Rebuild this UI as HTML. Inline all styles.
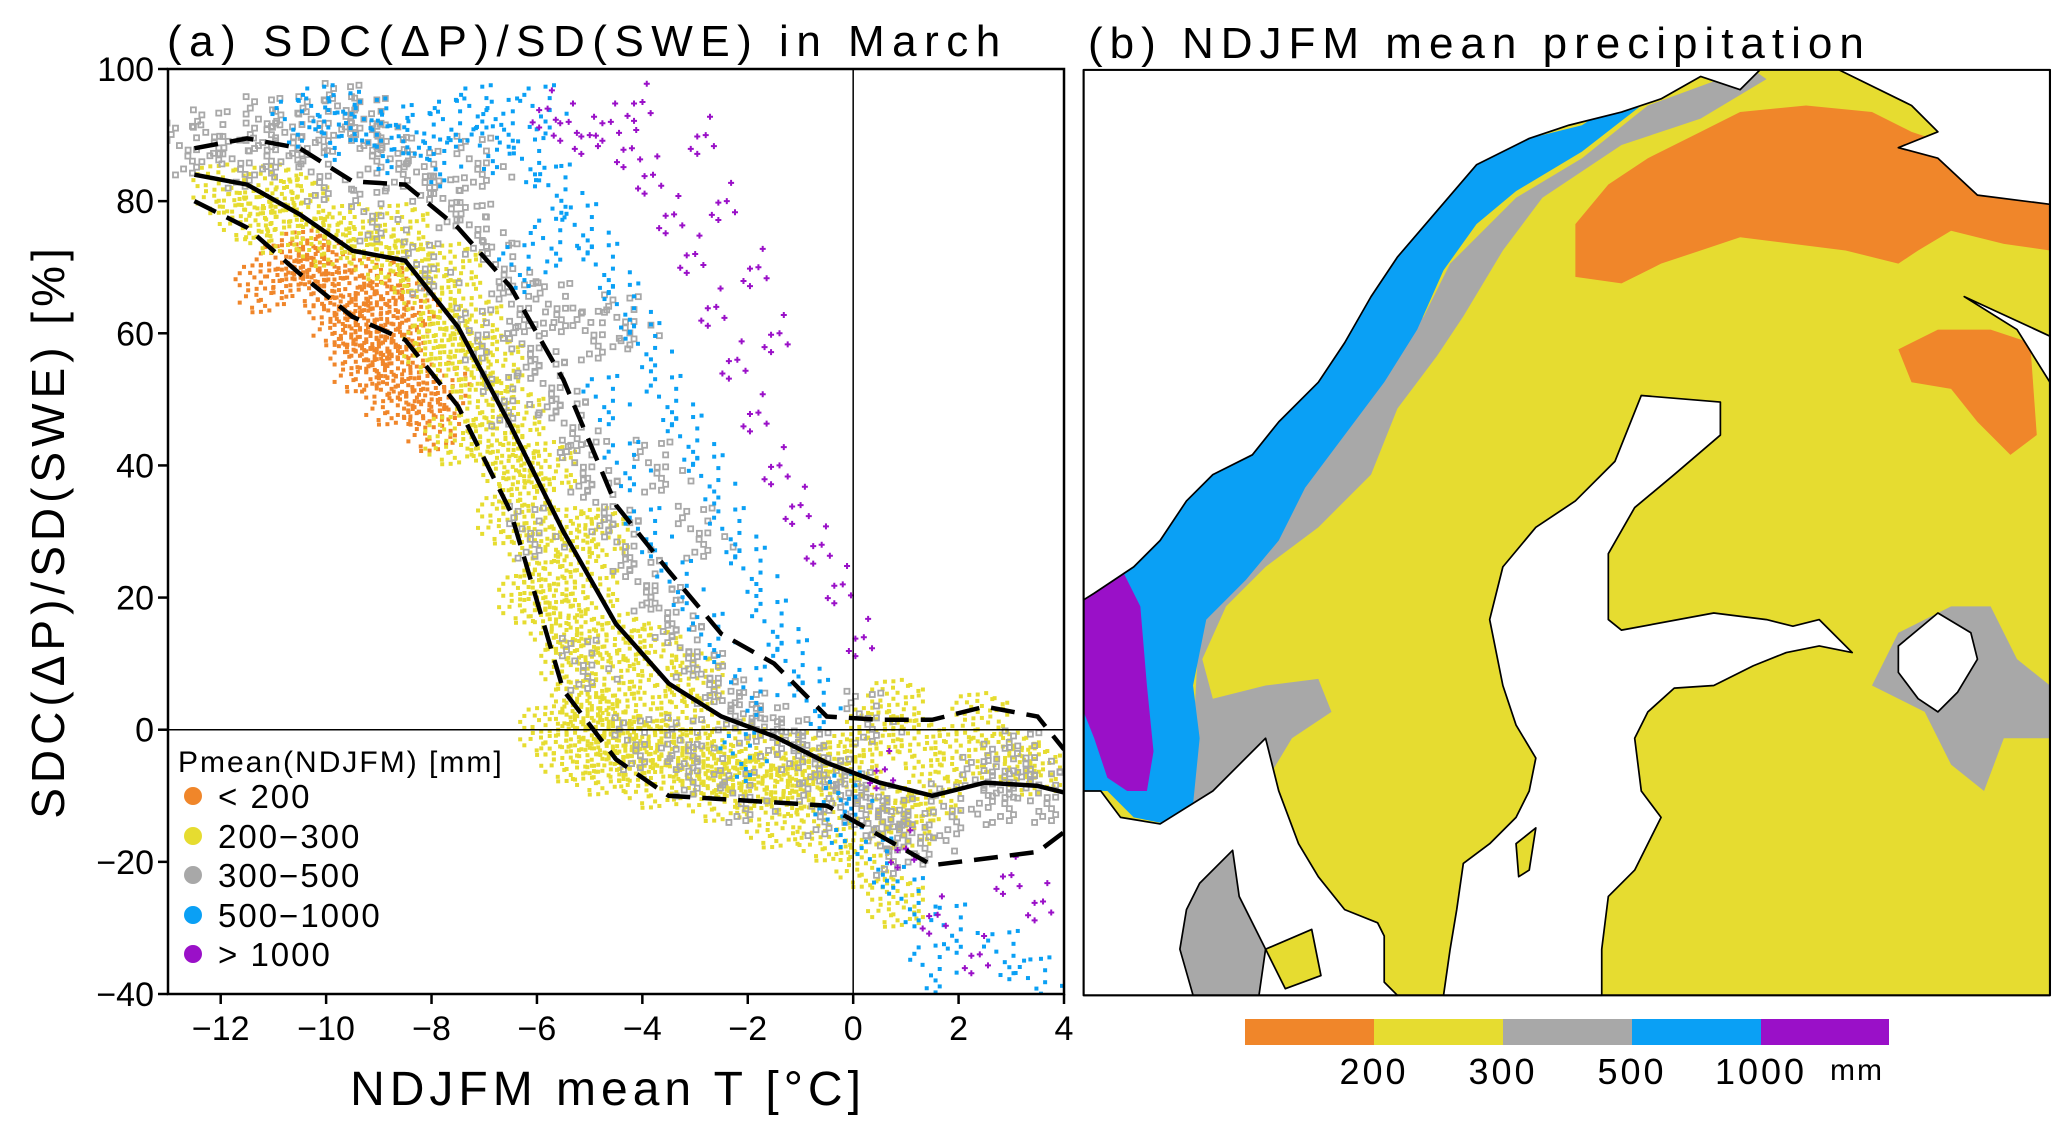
<!DOCTYPE html>
<html><head><meta charset="utf-8"><style>
html,body{margin:0;padding:0;background:#fff;}
svg{display:block;font-family:"Liberation Sans",sans-serif;}
</style></head><body>
<svg id="fig" width="2067" height="1131" viewBox="0 0 2067 1131" xmlns="http://www.w3.org/2000/svg">
<g id="panelA">
<text x="167" y="56" font-size="44" letter-spacing="7.5">(a) SDC(ΔP)/SD(SWE) in March</text>
<g id="plot"></g>
<g id="axes"></g>
<text x="608" y="1105" font-size="48" letter-spacing="5" text-anchor="middle">NDJFM mean T [°C]</text>
<text transform="translate(64,531) rotate(-90)" font-size="46" letter-spacing="5" text-anchor="middle">SDC(ΔP)/SD(SWE) [%]</text>
<g>
<text x="178" y="772" font-size="30" letter-spacing="2">Pmean(NDJFM) [mm]</text>
<circle cx="193" cy="796" r="9" fill="#f0862a"/><text x="218" y="808" font-size="33" letter-spacing="2">&lt; 200</text>
<circle cx="193" cy="836" r="9" fill="#e6dc30"/><text x="218" y="848" font-size="33" letter-spacing="2">200−300</text>
<circle cx="193" cy="875" r="9" fill="#a8a8a8"/><text x="218" y="887" font-size="33" letter-spacing="2">300−500</text>
<circle cx="193" cy="915" r="9" fill="#0aa0f5"/><text x="218" y="927" font-size="33" letter-spacing="2">500−1000</text>
<circle cx="193" cy="954" r="9" fill="#9a10c8"/><text x="218" y="966" font-size="33" letter-spacing="2">&gt; 1000</text>
</g>
</g>

<g id="panelB">
<text x="1088" y="58" font-size="44" letter-spacing="7">(b) NDJFM mean precipitation</text>
<g transform="scale(1.3183)" stroke-linejoin="round">
<rect x="822" y="53" width="733" height="702" fill="#e6dc30"/>
<polygon fill="#f0862a" points="1195,210 1195,170 1220,140 1250,120 1290,100 1320,85 1370,80 1420,85 1450,100 1480,110 1555,120 1555,190 1520,185 1480,175 1455,190 1440,200 1400,190 1360,185 1320,180 1290,190 1260,200 1230,215"/>
<polygon fill="#f0862a" points="1440,265 1470,250 1510,250 1540,260 1545,330 1525,345 1500,320 1480,295 1450,290"/>
<polygon fill="#a8a8a8" points="895,640 905,560 910,470 940,430 970,400 995,350 1025,310 1055,270 1080,240 1100,200 1150,150 1200,120 1250,80 1310,58 1330,53 1340,60 1290,90 1230,110 1170,150 1140,190 1110,240 1090,270 1060,310 1040,360 1000,400 960,430 930,460 912,500 920,530 960,520 1000,515 1010,540 980,560 965,585 975,630 1000,680 1030,720 1045,745 1040,755 1000,755 960,720 930,650"/>
<polygon fill="#a8a8a8" points="1420,520 1440,480 1480,460 1510,460 1530,500 1555,520 1555,560 1520,560 1505,600 1480,580 1460,540"/>
<polygon fill="#0aa0f5" points="840,600 860,620 885,625 905,610 910,560 905,520 915,470 945,440 970,410 990,370 1020,330 1050,290 1075,250 1095,205 1120,170 1150,145 1200,115 1245,80 1230,75 1200,95 1160,105 1120,125 1090,160 1060,195 1040,225 1020,260 1000,290 970,320 950,345 920,360 900,380 880,410 860,430 830,450 822,455 822,600"/>
<polygon fill="#9a10c8" points="822,437 850,430 865,460 870,520 875,570 870,600 855,600 840,590 830,560 822,540"/>
<g fill="#fff" stroke="#000" stroke-width="1.3">
<polygon points="822,53 1335,53 1320,68 1290,58 1260,75 1230,85 1190,95 1160,105 1120,125 1090,160 1060,195 1040,225 1020,260 1000,290 970,320 950,345 920,360 900,380 880,410 860,430 830,450 822,455"/>
<polygon points="1395,53 1555,53 1555,155 1500,148 1470,120 1440,112 1470,100 1450,80"/>
<polygon points="822,600 835,600 850,620 880,625 920,600 945,575 960,560 970,600 985,640 1000,665 1020,690 1045,700 1050,710 1050,745 1060,755 822,755"/>
<polygon points="1245,300 1225,350 1195,380 1165,400 1140,430 1130,470 1140,520 1150,550 1165,575 1160,600 1150,620 1130,640 1110,655 1105,690 1100,720 1095,755 1215,755 1215,720 1220,680 1240,660 1260,620 1245,600 1240,560 1250,540 1270,522 1300,520 1330,505 1355,495 1380,490 1405,495 1380,470 1360,475 1340,470 1300,465 1230,478 1220,470 1220,420 1240,385 1270,360 1305,330 1305,305"/>
<polygon points="1440,490 1470,465 1495,480 1500,500 1485,525 1470,540 1455,530 1440,510"/>
<polygon points="1490,225 1555,255 1555,290 1530,250"/>
</g>
<polygon fill="#a8a8a8" stroke="#000" stroke-width="1.3" points="900,690 910,670 935,645 940,680 960,720 955,755 905,755 895,720"/>
<polygon fill="#e6dc30" stroke="#000" stroke-width="1.3" points="960,720 995,705 1002,740 975,750"/>
<polygon fill="#e6dc30" stroke="#000" stroke-width="1.3" points="1150,640 1165,628 1160,660 1152,665"/>
<rect x="822" y="53" width="733" height="702" fill="none" stroke="#000" stroke-width="1.6"/>
</g>
<g>
<rect x="1245" y="1019" width="129" height="26" fill="#f0862a"/>
<rect x="1374" y="1019" width="129" height="26" fill="#e6dc30"/>
<rect x="1503" y="1019" width="129" height="26" fill="#a8a8a8"/>
<rect x="1632" y="1019" width="129" height="26" fill="#0aa0f5"/>
<rect x="1761" y="1019" width="128" height="26" fill="#9a10c8"/>
<g font-size="36" letter-spacing="3" text-anchor="middle">
<text x="1374" y="1084">200</text>
<text x="1503" y="1084">300</text>
<text x="1632" y="1084">500</text>
<text x="1761" y="1084">1000</text>
</g>
<text x="1830" y="1080" font-size="30" letter-spacing="2">mm</text>
</g>
</g>
</svg>
<script>
const xTicks=[-12,-10,-8,-6,-4,-2,0,2,4];
const yTicks=[-40,-20,0,20,40,60,80,100];
const lineT=[-12.5,-11.5,-10.5,-9.5,-8.5,-7.5,-6.5,-5.5,-4.5,-3.5,-2.5,-1.5,-0.5,0.5,1.5,2.5,3.5,4];
const medianVals=[84,82.5,78,72.5,71,61,46,30,16,7,2,-1,-5,-8,-10,-8,-8.5,-9.5];
const upperVals=[88,89.5,88,83,82.5,76,67,53,34,24,14.5,10,2,1.5,1.5,3.5,2,-3];
const lowerVals=[80,76,69,62.5,59,49,33,6,-4.5,-10,-10.5,-11,-11.5,-16,-20.5,-19.5,-18.5,-15.5];
const orangePts=[[-10.8,70],[-10.2,68],[-9.6,66],[-9,64],[-8.6,60],[-9.8,62],[-9.2,58],[-8.6,54],[-8.2,50],[-8,46],[-10.4,72],[-11.2,67],[-9,68],[-8.4,64],[-9.4,55],[-8.8,50],[-7.8,52],[-10,71],[-9.4,61],[-8.8,57]];
const yellowPts=[[-12,82],[-11.5,78],[-11,76],[-10.5,80],[-10,74],[-9.5,76],[-9,72],[-8.5,70],[-8,66],[-7.8,60],[-7.4,55],[-7,50],[-7.2,62],[-6.8,44],[-6.5,40],[-6.6,32],[-6.2,36],[-6,28],[-5.8,22],[-5.6,16],[-5.4,10],[-6.2,20],[-5.2,4],[-5,2],[-4.6,0],[-4.2,-2],[-4.6,8],[-4,4],[-3.6,-2],[-3.2,-4],[-2.8,-6],[-2.4,-6],[-2,-8],[-1.6,-7],[-1.2,-9],[-0.8,-8],[-0.4,-6],[0,-4],[0.4,0],[0.8,4],[1.2,-2],[0.6,-12],[1,-14],[1.5,-10],[2,-4],[2.4,2],[3,-4],[3.4,-6],[-5.8,0],[-5.4,-4],[-4.8,-6],[-3.8,-8],[-2.6,-10],[-7.6,44],[-8,58],[-4.4,14],[-3.8,12],[-3,8],[-5,22],[-4.8,30],[-1.5,-14],[-0.5,-16],[0.2,-20],[0.8,-26],[-6.8,56],[-6.4,48],[-5.8,40],[-5.4,30],[-5.2,14],[-4.4,-4],[-3.2,2],[-2.2,-2],[-1,-4],[-7.6,70],[-8.6,76],[-11,82]];
const grayPts=[[-12.5,88],[-12,90],[-11.5,86],[-11,92],[-10.5,90],[-10,92],[-9.5,94],[-9,88],[-8.5,86],[-8,84],[-7.5,80],[-7,76],[-6.5,70],[-6.2,64],[-6,58],[-5.6,52],[-5.2,46],[-5,40],[-4.6,34],[-4.2,28],[-3.8,22],[-3.4,18],[-3,12],[-2.6,8],[-2.2,4],[-1.8,2],[-1.4,0],[-1,-2],[-0.6,-4],[-0.2,-8],[0.2,-10],[0.6,-12],[1,-14],[1.4,-16],[2,-12],[2.6,-8],[3,-6],[3.4,-4],[3.8,-10],[-4,-2],[-3,-6],[-2,-10],[-6,30],[-5,10],[-7,60],[-8,70],[-9,78],[-10,84],[-6.5,50],[-4.8,60],[-4.2,62],[-3.6,40],[-2.8,30],[0.4,2],[-11,88],[-9,92],[-7,86],[-5.5,64],[-3,-2],[-0.5,-12],[0.8,-18],[3,-10]];
const bluePts=[[-10.5,92],[-10,94],[-9.5,93],[-9,92],[-8.5,91],[-8,90],[-7.5,92],[-7,94],[-6.5,92],[-6,86],[-5.5,82],[-5,76],[-4.6,70],[-4.2,64],[-3.8,58],[-3.4,50],[-3,44],[-2.6,38],[-2.2,30],[-1.8,24],[-1.4,16],[-1,10],[-0.6,4],[-4.6,50],[-4.2,40],[-3.8,30],[-3.2,22],[-2.6,14],[-1.8,6],[-0.2,-14],[0.6,-20],[1.2,-26],[2,-30],[3,-34],[3.6,-38],[1.6,-36],[0,-10],[-2,-4],[-6.2,70],[-5.6,74],[-9.8,90],[-8.8,88],[-7.8,86],[-6.8,88],[-5.8,94]];
const purplePts=[[-6,94],[-5.6,92],[-5.2,90],[-4.8,92],[-4.4,88],[-4,84],[-3.6,78],[-3.2,72],[-2.8,64],[-2.4,56],[-2,48],[-1.6,40],[-1.2,34],[-0.8,28],[-0.4,22],[0,14],[-4.2,95],[-3,90],[-2.6,80],[-2,70],[-1.6,60],[0.4,-6],[0.8,-18],[1.4,-28],[2.2,-34],[3.4,-26],[2.8,-22]];

const NS="http://www.w3.org/2000/svg";
const X0=168,X1=1064,Y0=69,Y1=994;
function xs(t){return X0+(t+13)/17*(X1-X0);}
function ys(v){return Y1-(v+40)/140*(Y1-Y0);}
function mk(tag,attrs,parent){const e=document.createElementNS(NS,tag);for(const k in attrs)e.setAttribute(k,attrs[k]);parent.appendChild(e);return e;}
const plot=document.getElementById('plot');
const axes=document.getElementById('axes');
const clip=mk('clipPath',{id:'pc'},plot);mk('rect',{x:X0,y:Y0,width:X1-X0,height:Y1-Y0},clip);
const pg=mk('g',{'clip-path':'url(#pc)'},plot);
// glyph layout pattern (visual texture, not data)
const pattern=[];
for(let r=0;r<7;r++)for(let c=0;c<7;c++){pattern.push([(c-3)*6.5+((r%2)*3.2)+((c*r)%3-1)*1.5,(r-3)*6+((c%2)*2.5)+((c+2*r)%3-1)*1.4]);}
pattern.sort((a,b)=>(a[0]*a[0]+a[1]*a[1])-(b[0]*b[0]+b[1]*b[1]));
function cloud(pts,color,n,step,kind,name){
  const g=mk('g',{},pg);
  
  
  pts.forEach(p=>{
    const cx=xs(p[0]),cy=ys(p[1]);
    for(let i=0;i<n;i++){
      const o=pattern[(i*step)%pattern.length];const x=cx+o[0]*1.3,y=cy+o[1]*1.3;
      let e;
      if(kind==='sq'){e=mk('rect',{x:x-2.5,y:y-2.5,width:5,height:5,fill:'none',stroke:color,'stroke-width':1.8},g);}
      else if(kind==='cross'){e=mk('path',{d:`M${x-3} ${y}h6M${x} ${y-3}v6`,stroke:color,'stroke-width':2},g);}
      else {e=mk('rect',{x:x-2,y:y-2,width:4,height:4,fill:color},g);}
      
      
    }
  });
}
cloud(orangePts,'#f0862a',40,1,'dot','points-lt200');
cloud(yellowPts,'#e6dc30',44,1,'dot','points-200-300');
cloud(grayPts,'#a8a8a8',18,3,'sq','points-300-500');
cloud(bluePts,'#0aa0f5',14,3,'dot','points-500-1000');
cloud(purplePts,'#9a10c8',6,5,'cross','points-gt1000');
const zh=mk('line',{x1:X0,x2:X1,y1:ys(0),y2:ys(0),stroke:'#000','stroke-width':1.5},plot);


const zv=mk('line',{x1:xs(0),x2:xs(0),y1:Y0,y2:Y1,stroke:'#000','stroke-width':1.5},plot);


function line(vals,dash,name){
  const d=lineT.map((t,i)=>(i?'L':'M')+xs(t).toFixed(1)+' '+ys(vals[i]).toFixed(1)).join('');
  const e=mk('path',{d:d,fill:'none',stroke:'#000','stroke-width':4.5,'stroke-dasharray':dash},pg);
  
  
}
line(medianVals,'none','median-line');
line(upperVals,'24 12','upper-dashed-line');
line(lowerVals,'24 12','lower-dashed-line');
const fr=mk('rect',{x:X0,y:Y0,width:X1-X0,height:Y1-Y0,fill:'none',stroke:'#000','stroke-width':2.5},axes);


xTicks.forEach(t=>{
  const l=mk('line',{x1:xs(t),x2:xs(t),y1:Y1,y2:Y1+10,stroke:'#000','stroke-width':2.5},axes);
  
  
  const tx=mk('text',{x:xs(t),y:Y1+46,'font-size':34,'text-anchor':'middle'},axes);
  tx.textContent=(t<0?'−':'')+Math.abs(t);
  
  
});
yTicks.forEach(v=>{
  const l=mk('line',{x1:X0-10,x2:X0,y1:ys(v),y2:ys(v),stroke:'#000','stroke-width':2.5},axes);
  
  
  const tx=mk('text',{x:X0-14,y:ys(v)+12,'font-size':34,'text-anchor':'end'},axes);
  tx.textContent=(v<0?'−':'')+Math.abs(v);
  
  
});
</script>
</body></html>
